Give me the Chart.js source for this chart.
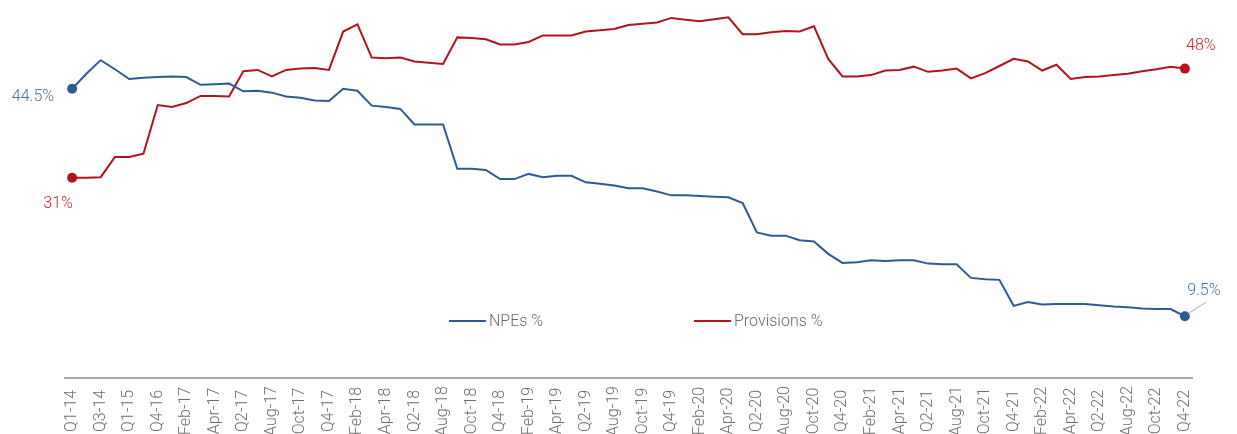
<!DOCTYPE html>
<html>
<head>
<meta charset="utf-8">
<script src="https://cdn.jsdelivr.net/npm/chart.js@4/dist/chart.umd.min.js"></script>
<style>
  body { margin: 0; background: #fff; }
  #wrap { position: relative; width: 1237px; height: 434px; overflow: hidden; }
  #legend { position: absolute; left: 449px; top: 311px; display: flex; font: 300 16px Roboto, sans-serif; color: #6b6b6b; }
  #legend .item { display: flex; align-items: center; }
  #legend .item:first-child { width: 245px; }
  #legend .swatch { width: 37px; height: 2px; margin-right: 3px; }
</style>
</head>
<body>
<div id="wrap">
  <canvas id="chart" width="1237" height="434"></canvas>
  <div id="legend"></div>
</div>
<script>
// ---------------- Data ----------------
const labels = [
  "Q1-14", "Q2-14", "Q3-14", "Q4-14", "Q1-15", "Q2-15", "Q4-16",
  "Jan-17", "Feb-17", "Q1-17", "Apr-17", "May-17", "Q2-17", "Jul-17", "Aug-17", "Q3-17", "Oct-17", "Nov-17", "Q4-17",
  "Jan-18", "Feb-18", "Q1-18", "Apr-18", "May-18", "Q2-18", "Jul-18", "Aug-18", "Q3-18", "Oct-18", "Nov-18", "Q4-18",
  "Jan-19", "Feb-19", "Q1-19", "Apr-19", "May-19", "Q2-19", "Jul-19", "Aug-19", "Q3-19", "Oct-19", "Nov-19", "Q4-19",
  "Jan-20", "Feb-20", "Q1-20", "Apr-20", "May-20", "Q2-20", "Jul-20", "Aug-20", "Q3-20", "Oct-20", "Nov-20", "Q4-20",
  "Jan-21", "Feb-21", "Q1-21", "Apr-21", "May-21", "Q2-21", "Jul-21", "Aug-21", "Q3-21", "Oct-21", "Nov-21", "Q4-21",
  "Jan-22", "Feb-22", "Q1-22", "Apr-22", "May-22", "Q2-22", "Jul-22", "Aug-22", "Q3-22", "Oct-22", "Nov-22", "Q4-22"
];

const npes = [
  44.5, 46.8, 48.9, 47.5, 46.0, 46.2, 46.3, 46.4, 46.3, 45.1,
  45.2, 45.3, 44.1, 44.2, 43.9, 43.3, 43.1, 42.7, 42.6, 44.5,
  44.2, 41.9, 41.7, 41.4, 39.0, 39.0, 39.0, 32.2, 32.2, 32.0,
  30.6, 30.6, 31.4, 30.9, 31.1, 31.1, 30.1, 29.9, 29.6, 29.2,
  29.2, 28.7, 28.1, 28.1, 28.0, 27.9, 27.8, 26.9, 22.4, 21.9,
  21.9, 21.2, 21.0, 19.1, 17.7, 17.8, 18.1, 18.0, 18.1, 18.1,
  17.6, 17.5, 17.5, 15.4, 15.2, 15.1, 11.1, 11.7, 11.3, 11.4,
  11.4, 11.4, 11.2, 11.0, 10.9, 10.7, 10.6, 10.6, 9.5
];

const provisions = [
  30.8, 30.8, 30.9, 34.0, 34.0, 34.5, 42.0, 41.7, 42.3, 43.4,
  43.4, 43.3, 47.2, 47.4, 46.4, 47.4, 47.6, 47.7, 47.4, 53.3,
  54.4, 49.3, 49.2, 49.3, 48.7, 48.5, 48.3, 52.4, 52.3, 52.1,
  51.3, 51.3, 51.7, 52.7, 52.7, 52.7, 53.3, 53.5, 53.7, 54.3,
  54.5, 54.7, 55.4, 55.1, 54.9, 55.2, 55.5, 52.9, 52.9, 53.2,
  53.4, 53.3, 54.1, 49.1, 46.4, 46.4, 46.6, 47.3, 47.4, 47.9,
  47.1, 47.3, 47.6, 46.1, 46.9, 48.0, 49.1, 48.7, 47.3, 48.2,
  46.0, 46.3, 46.4, 46.6, 46.8, 47.2, 47.5, 47.9, 47.6
];

const seriesNames = ["NPEs %", "Provisions %"];
const endTexts = [["44.5%", "9.5%"], ["31%", "48%"]];

// ---------------- Style ----------------
const BLUE = "#2f5b91", RED = "#b4121c";
const BLUE_TXT = "#4a70a3", RED_TXT = "#c42a33";
const last = labels.length - 1;
const endPoint = (c) => (c.dataIndex === 0 || c.dataIndex === last) ? 5 : 0;

// ---------------- Overlay: rotated x labels + end value labels ----------------
const overlay = {
  id: "overlay",
  afterDraw(chart) {
    const { ctx } = chart;
    const xs = chart.scales.x, ys = chart.scales.y;
    ctx.save();
    ctx.font = "300 16px Roboto, sans-serif";
    ctx.fillStyle = "#6e6e6e";
    ctx.textAlign = "center";
    ctx.textBaseline = "middle";
    labels.forEach((l, i) => {
      if (i % 2) return;
      ctx.save();
      ctx.translate(xs.getPixelForValue(i), 411);
      ctx.rotate(-Math.PI / 2);
      ctx.fillText(l, 0, 0);
      ctx.restore();
    });

    ctx.font = "300 16px Roboto, sans-serif";
    const pt = (arr, i) => [xs.getPixelForValue(i), ys.getPixelForValue(arr[i])];

    // NPEs first / last
    let [px, py] = pt(npes, 0);
    ctx.fillStyle = BLUE_TXT;
    ctx.textAlign = "right";
    ctx.fillText(endTexts[0][0], px - 18, py + 8);
    [px, py] = pt(npes, last);
    ctx.textAlign = "center";
    ctx.fillText(endTexts[0][1], px + 19, py - 25);
    ctx.strokeStyle = "#b0b0b0";
    ctx.lineWidth = 1;
    ctx.beginPath();
    ctx.moveTo(px + 4, py - 3);
    ctx.lineTo(px + 21, py - 14);
    ctx.stroke();

    // Provisions first / last
    ctx.fillStyle = RED_TXT;
    [px, py] = pt(provisions, 0);
    ctx.fillText(endTexts[1][0], px - 14, py + 26);
    [px, py] = pt(provisions, last);
    ctx.fillText(endTexts[1][1], px + 16, py - 23);
    ctx.restore();
  }
};

// ---------------- Chart ----------------
const chart = new Chart(document.getElementById("chart"), {
  type: "line",
  data: {
    labels,
    datasets: [
      { label: seriesNames[0], data: npes, borderColor: BLUE, backgroundColor: BLUE, borderWidth: 2, pointRadius: endPoint, pointBorderWidth: 0, tension: 0 },
      { label: seriesNames[1], data: provisions, borderColor: RED, backgroundColor: RED, borderWidth: 2, pointRadius: endPoint, pointBorderWidth: 0, tension: 0 }
    ]
  },
  options: {
    responsive: false,
    animation: false,
    layout: { padding: { left: 65, right: 45, top: 14, bottom: 0 } },
    scales: {
      x: {
        offset: true,
        grid: { display: false },
        border: { color: "#a6a6a6", width: 2 },
        ticks: { display: false },
        afterFit: (s) => { s.height = 56; }
      },
      y: { display: false, min: 0, max: 56 }
    },
    plugins: { legend: { display: false }, tooltip: { enabled: false } }
  },
  plugins: [overlay]
});

// ---------------- HTML legend ----------------
const legend = document.getElementById("legend");
chart.data.datasets.forEach(ds => {
  const item = document.createElement("div");
  item.className = "item";
  item.innerHTML = `<span class="swatch" style="background:${ds.borderColor}"></span><span>${ds.label}</span>`;
  legend.appendChild(item);
});
</script>
</body>
</html>
